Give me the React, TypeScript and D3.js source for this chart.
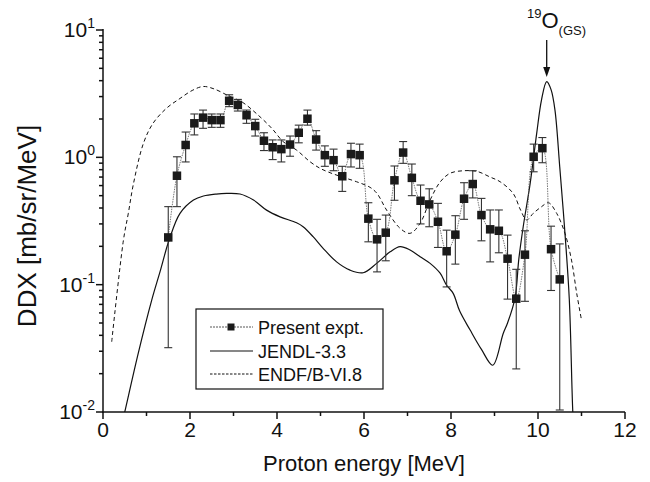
import React from 'react';
import * as d3 from 'd3';

const W = 650, H = 482;

// Experimental data (Present expt.)
const expE = [1.5, 1.7, 1.9, 2.1, 2.3, 2.5, 2.7, 2.9, 3.1, 3.3, 3.5, 3.7, 3.9, 4.1, 4.3, 4.5, 4.7, 4.9, 5.1, 5.3, 5.5, 5.7, 5.9, 6.1, 6.3, 6.5, 6.7, 6.9, 7.1, 7.3, 7.5, 7.7, 7.9, 8.1, 8.3, 8.5, 8.7, 8.9, 9.1, 9.3, 9.5, 9.7, 9.9, 10.1, 10.3, 10.5];
const expVal = [0.235, 0.717, 1.25, 1.85, 2.05, 1.96, 1.96, 2.78, 2.58, 2.14, 1.76, 1.35, 1.2, 1.16, 1.26, 1.56, 2.01, 1.38, 1.04, 0.95, 0.71, 1.06, 1.04, 0.33, 0.227, 0.256, 0.66, 1.09, 0.69, 0.456, 0.427, 0.312, 0.183, 0.247, 0.473, 0.617, 0.352, 0.272, 0.265, 0.16, 0.0776, 0.172, 1.01, 1.18, 0.19, 0.11];
const expHi = [0.41, 1.01, 1.58, 2.19, 2.35, 2.19, 2.19, 3.1, 2.85, 2.35, 1.99, 1.56, 1.37, 1.37, 1.47, 1.79, 2.35, 1.62, 1.23, 1.16, 0.85, 1.29, 1.27, 0.44, 0.326, 0.352, 0.855, 1.33, 0.886, 0.606, 0.566, 0.435, 0.268, 0.348, 0.632, 0.785, 0.476, 0.386, 0.386, 0.245, 0.132, 0.265, 1.27, 1.43, 0.288, 0.209];
const expLo = [0.032, 0.41, 0.92, 1.5, 1.69, 1.72, 1.72, 2.5, 2.31, 1.85, 1.47, 1.13, 0.96, 0.92, 1.02, 1.3, 1.79, 1.14, 0.85, 0.785, 0.54, 0.84, 0.82, 0.217, 0.126, 0.154, 0.46, 0.897, 0.5, 0.3, 0.285, 0.196, 0.096, 0.145, 0.326, 0.48, 0.221, 0.151, 0.178, 0.077, 0.0218, 0.074, 0.77, 0.907, 0.09, 0.0102];

// JENDL-3.3
const jendlE = [0.4, 0.5, 0.8, 1.12, 1.31, 1.52, 1.77, 2.08, 2.31, 2.6, 2.84, 3.15, 3.46, 3.76, 4.07, 4.45, 4.6, 4.83, 5.06, 5.37, 5.68, 5.98, 6.29, 6.6, 6.83, 7.06, 7.29, 7.52, 7.75, 7.9, 8.05, 8.2, 8.44, 8.7, 8.96, 9.2, 9.3, 9.47, 9.56, 9.66, 9.82, 9.97, 10.08, 10.2, 10.3, 10.39, 10.5, 10.62, 10.72, 10.8, 10.85];
const jendlV = [0.0072, 0.01, 0.028, 0.0757, 0.126, 0.224, 0.363, 0.462, 0.497, 0.515, 0.521, 0.515, 0.462, 0.385, 0.341, 0.306, 0.285, 0.238, 0.193, 0.151, 0.13, 0.124, 0.147, 0.181, 0.199, 0.187, 0.166, 0.147, 0.123, 0.099, 0.0855, 0.062, 0.044, 0.031, 0.0233, 0.0414, 0.05, 0.078, 0.16, 0.285, 0.625, 1.54, 2.82, 3.93, 3.4, 2.35, 0.84, 0.253, 0.076, 0.01, 0.005];

// ENDF/B-VI.8
const endfE = [0.2, 0.47, 0.58, 0.7, 0.93, 1.15, 1.46, 1.77, 2.05, 2.3, 2.55, 2.92, 3.19, 3.61, 3.9, 4.14, 4.45, 4.76, 4.99, 5.22, 5.52, 5.83, 6.14, 6.3, 6.52, 6.83, 7.06, 7.29, 7.52, 7.75, 7.98, 8.3, 8.6, 8.9, 9.13, 9.43, 9.6, 9.74, 9.89, 10.08, 10.24, 10.43, 10.62, 10.77, 10.89, 11.0];
const endfV = [0.0356, 0.224, 0.36, 0.62, 1.29, 1.85, 2.43, 2.9, 3.35, 3.6, 3.45, 3.0, 2.73, 2.08, 1.66, 1.33, 1.14, 0.923, 0.82, 0.757, 0.697, 0.643, 0.581, 0.52, 0.385, 0.277, 0.253, 0.303, 0.462, 0.64, 0.75, 0.785, 0.775, 0.7, 0.643, 0.52, 0.385, 0.322, 0.363, 0.409, 0.44, 0.363, 0.253, 0.156, 0.0855, 0.0527];

const xTicks = [0, 2, 4, 6, 8, 10, 12];
const xMinorTicks = [1, 3, 5, 7, 9, 11];
const yTickExps = [1, 0, -1, -2];
const legendLabels = ['Present expt.', 'JENDL-3.3', 'ENDF/B-VI.8'];

const L = 103, R = 625, T = 30, B = 412;
const FONT = '"Liberation Sans", Arial, Helvetica, sans-serif';

export default function App() {
  const x = d3.scaleLinear().domain([0, 12]).range([L, R]);
  const y = d3.scaleLog().domain([0.01, 10]).range([B, T]);

  const lineGen = d3.line<[number, number]>()
    .x(d => x(d[0]))
    .y(d => y(d[1]))
    .curve(d3.curveCatmullRom.alpha(0.5));

  const jendlPath = lineGen(jendlE.map((e, i) => [e, jendlV[i]]) as [number, number][]) || '';
  const endfPath = lineGen(endfE.map((e, i) => [e, endfV[i]]) as [number, number][]) || '';
  const expPath = lineGen(expE.map((e, i) => [e, expVal[i]]) as [number, number][]) || '';

  const minorY: number[] = [];
  for (let p = -2; p < 1; p++) {
    for (let m = 2; m <= 9; m++) minorY.push(m * Math.pow(10, p));
  }

  const sq = 8.5;
  const cap = 4;
  const legRows = [327, 351, 374];

  return (
    <svg width={W} height={H} style={{ position: 'absolute', left: 0, top: 0, background: '#fff' }} fontFamily={FONT}>
      <defs>
        <clipPath id="plotClip">
          <rect x={L} y={0} width={R - L} height={B - 0} />
        </clipPath>
      </defs>
      <rect x={0} y={0} width={W} height={H} fill="#fff" />

      {/* theory curves */}
      <g clipPath="url(#plotClip)">
        <path d={endfPath} fill="none" stroke="#111" strokeWidth={1} strokeDasharray="4,3" />
        <path d={jendlPath} fill="none" stroke="#111" strokeWidth={1.2} />
        <path d={expPath} fill="none" stroke="#555" strokeWidth={0.8} strokeDasharray="1.5,1" />
      </g>

      {/* error bars */}
      <g stroke="#333" strokeWidth={1.1}>
        {expE.map((e, i) => {
          const cx = x(e);
          const yh = y(expHi[i]);
          const yl = Math.min(y(expLo[i]), B - 2);
          return (
            <g key={i}>
              <line x1={cx} x2={cx} y1={yh} y2={yl} />
              <line x1={cx - cap} x2={cx + cap} y1={yh} y2={yh} />
              <line x1={cx - cap} x2={cx + cap} y1={yl} y2={yl} />
            </g>
          );
        })}
      </g>

      {/* markers */}
      <g fill="#1a1a1a">
        {expE.map((e, i) => (
          <rect key={i} x={x(e) - sq / 2} y={y(expVal[i]) - sq / 2} width={sq} height={sq} />
        ))}
      </g>

      {/* axes */}
      <g stroke="#111" strokeWidth={1.5} fill="none">
        <line x1={L} x2={L} y1={T - 1} y2={B + 0.75} />
        <line x1={L - 0.75} x2={R} y1={B} y2={B} />
        {xTicks.map(t => (
          <line key={'xt' + t} x1={x(t)} x2={x(t)} y1={B} y2={B + 7} />
        ))}
        {xMinorTicks.map(t => (
          <line key={'xm' + t} x1={x(t)} x2={x(t)} y1={B} y2={B + 4} />
        ))}
        {yTickExps.map(p => (
          <line key={'yt' + p} x1={L - 7} x2={L} y1={y(Math.pow(10, p))} y2={y(Math.pow(10, p))} />
        ))}
        {minorY.map((v, i) => (
          <line key={'ym' + i} x1={L - 4} x2={L} y1={y(v)} y2={y(v)} />
        ))}
      </g>

      {/* tick labels */}
      <g fill="#111" fontSize={21}>
        {xTicks.map(t => (
          <text key={'xl' + t} x={x(t)} y={437} textAnchor="middle">{t}</text>
        ))}
        {yTickExps.map(p => (
          <text key={'yl' + p} x={95} y={y(Math.pow(10, p)) + 7} textAnchor="end">
            10<tspan dy={-9} fontSize={14}>{p}</tspan>
          </text>
        ))}
      </g>

      {/* axis titles */}
      <text x={(L + R) / 2} y={471} textAnchor="middle" fontSize={22} fill="#111">Proton energy [MeV]</text>
      <text transform={`translate(36, ${(T + B) / 2 + 5}) rotate(-90)`} textAnchor="middle" fontSize={26} fill="#111">DDX [mb/sr/MeV]</text>

      {/* annotation */}
      <text x={527} y={28} fill="#111">
        <tspan fontSize={13} dy={-10}>19</tspan>
        <tspan fontSize={22} dy={10}>O</tspan>
        <tspan fontSize={13} dy={7}>(GS)</tspan>
      </text>
      <line x1={x(10.2)} x2={x(10.2)} y1={40} y2={70} stroke="#111" strokeWidth={1.3} />
      <path d={`M${x(10.2) - 3.5},${67} L${x(10.2) + 3.5},${67} L${x(10.2)},${77} Z`} fill="#111" />

      {/* legend */}
      <rect x={196} y={309} width={187} height={80} fill="#fff" stroke="#111" strokeWidth={1.2} />
      <line x1={210} x2={253} y1={legRows[0]} y2={legRows[0]} stroke="#444" strokeWidth={0.9} strokeDasharray="2,1" />
      <rect x={231 - 3.5} y={legRows[0] - 3.5} width={7} height={7} fill="#1a1a1a" />
      <line x1={210} x2={253} y1={legRows[1]} y2={legRows[1]} stroke="#111" strokeWidth={1.1} />
      <line x1={210} x2={253} y1={legRows[2]} y2={legRows[2]} stroke="#111" strokeWidth={1} strokeDasharray="2.5,1.5" />
      {legendLabels.map((lab, i) => (
        <text key={lab} x={258} y={legRows[i] + 6.5} fontSize={18} fill="#111">{lab}</text>
      ))}
    </svg>
  );
}
